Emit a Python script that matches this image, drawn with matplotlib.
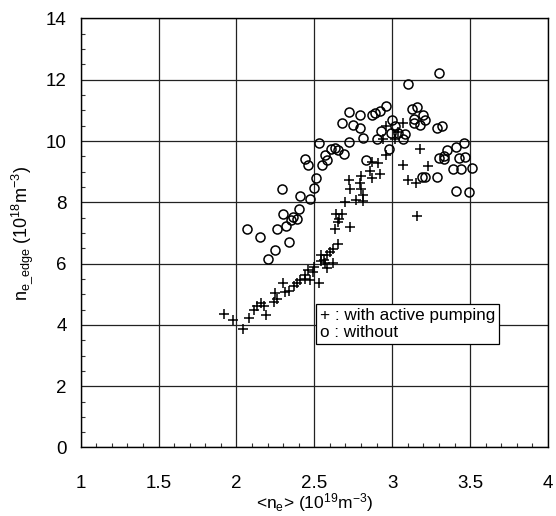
import matplotlib
matplotlib.use("Agg")
import matplotlib.pyplot as plt
from matplotlib.ticker import MultipleLocator

plt.rcParams['font.family'] = ['Liberation Sans', 'DejaVu Sans']
plt.rcParams['mathtext.default'] = 'regular'

# with active pumping (+)
x_pump = [1.92, 1.98, 2.08, 2.04, 2.11, 2.13, 2.16, 2.18, 2.19, 2.24,
          2.26, 2.25, 2.30, 2.31, 2.34, 2.37, 2.39, 2.41, 2.44, 2.47,
          2.44, 2.46, 2.49, 2.50, 2.53, 2.54, 2.54, 2.56, 2.57, 2.58,
          2.60, 2.62, 2.65, 2.62, 2.58, 2.63, 2.73, 2.64, 2.68, 2.66,
          2.65, 2.70, 2.77, 2.81, 2.81, 2.73, 2.80, 2.79, 2.72, 2.80,
          2.87, 2.86, 2.92, 2.91, 2.96, 3.07, 3.10, 3.15, 3.18, 3.23,
          3.16, 3.07, 2.96, 2.94, 3.02, 2.87, 3.04]
y_pump = [4.36, 4.15, 4.21, 3.85, 4.50, 4.61, 4.72, 4.61, 4.31, 4.74,
          4.86, 5.04, 5.37, 5.06, 5.10, 5.26, 5.37, 5.45, 5.50, 5.47,
          5.64, 5.80, 5.74, 5.90, 5.37, 6.07, 6.28, 6.12, 6.01, 6.28,
          6.39, 6.47, 6.64, 6.01, 5.85, 7.12, 7.20, 7.61, 7.61, 7.47,
          7.36, 8.01, 8.08, 8.04, 8.25, 8.44, 8.42, 8.63, 8.74, 8.87,
          8.79, 9.03, 8.92, 9.28, 9.55, 9.22, 8.74, 8.62, 9.73, 9.19,
          7.55, 10.59, 10.49, 10.06, 10.06, 9.31, 10.30]

# without (o)
x_nopump = [2.07, 2.15, 2.20, 2.25, 2.26, 2.32, 2.34, 2.30, 2.35, 2.36,
            2.39, 2.40, 2.41, 2.47, 2.29, 2.50, 2.51, 2.44, 2.46, 2.53,
            2.55, 2.57, 2.58, 2.61, 2.63, 2.65, 2.69, 2.72, 2.83, 2.68,
            2.75, 2.79, 2.81, 2.72, 2.79, 2.87, 2.89, 2.92, 2.96, 2.93,
            3.00, 3.02, 2.99, 3.04, 3.08, 3.07, 2.90, 2.98, 3.10, 3.30,
            3.13, 3.16, 3.20, 3.21, 3.18, 3.14, 3.29, 3.32, 3.46, 3.41,
            3.35, 3.33, 3.30, 3.33, 3.43, 3.47, 3.51, 3.39, 3.44, 3.19,
            3.21, 3.29, 3.41, 3.49, 3.14]
y_nopump = [7.13, 6.87, 6.15, 6.44, 7.12, 7.22, 6.71, 7.61, 7.42, 7.51,
            7.45, 7.77, 8.22, 8.12, 8.42, 8.47, 8.78, 9.41, 9.22, 9.93,
            9.22, 9.54, 9.38, 9.73, 9.77, 9.70, 9.57, 9.97, 9.39, 10.59,
            10.52, 10.43, 10.11, 10.95, 10.86, 10.86, 10.92, 10.97, 11.13, 10.32,
            10.70, 10.49, 10.27, 10.27, 10.24, 10.06, 10.06, 9.73, 11.87, 12.21,
            11.06, 11.11, 10.84, 10.67, 10.52, 10.59, 10.43, 10.49, 9.94, 9.82,
            9.71, 9.51, 9.46, 9.41, 9.44, 9.48, 9.12, 9.09, 9.09, 8.84,
            8.81, 8.81, 8.38, 8.33, 10.73]

x_ticks = [1, 1.5, 2, 2.5, 3, 3.5, 4]
x_ticklabels = ['1', '1.5', '2', '2.5', '3', '3.5', '4']
y_ticks = [0, 2, 4, 6, 8, 10, 12, 14]

fig = plt.figure(figsize=(5.56, 5.16), dpi=100)
ax = fig.add_axes([0.1451, 0.1328, 0.8405, 0.8315])

ax.plot(x_pump, y_pump, linestyle='none', marker='+', markersize=7.5,
        markeredgewidth=1.1, color='black', zorder=3)
ax.plot(x_nopump, y_nopump, linestyle='none', marker='o', markersize=6.5,
        markerfacecolor='none', markeredgewidth=1.1, markeredgecolor='black', zorder=3)

ax.set_xlim(1, 4)
ax.set_ylim(0, 14)
ax.set_xticks(x_ticks)
ax.set_xticklabels(x_ticklabels)
ax.set_yticks(y_ticks)
ax.xaxis.set_minor_locator(MultipleLocator(0.1))
ax.yaxis.set_minor_locator(MultipleLocator(0.5))
ax.tick_params(which='major', direction='in', length=0, labelsize=13.5)
ax.tick_params(axis='x', which='major', pad=20)
ax.tick_params(axis='y', which='major', pad=10)
ax.tick_params(which='minor', direction='in', length=3, width=0.8, color='#333333')
ax.grid(True, which='major', color='#222222', linewidth=0.9)
ax.set_axisbelow(True)
for s in ax.spines.values():
    s.set_linewidth(1.0)
    s.set_color('black')

ax.set_xlabel(r'<n$_e$> (10$^{19}$m$^{-3}$)', fontsize=12.5, labelpad=-1)
ax.set_ylabel(r'n$_{e\_edge}$ (10$^{18}$m$^{-3}$)', fontsize=13, labelpad=8)

ax.text(0.512, 0.325, '+ : with active pumping\no : without', transform=ax.transAxes,
        fontsize=12.3, va='top', ha='left', linespacing=1.15, zorder=5,
        bbox=dict(boxstyle='square,pad=0.25', facecolor='white', edgecolor='black', linewidth=0.9))

fig.savefig('out.png', dpi=100)
